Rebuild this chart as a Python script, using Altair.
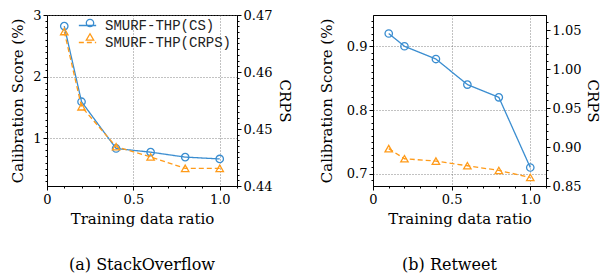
import altair as alt
import pandas as pd

# ---------------- data ----------------
ratios = [0.1, 0.2, 0.4, 0.6, 0.8, 1.0]
so_cs = [2.82, 1.59, 0.83, 0.77, 0.69, 0.66]
so_crps = [0.4671, 0.4539, 0.4469, 0.4451, 0.4431, 0.4431]
rt_cs = [0.92, 0.90, 0.88, 0.84, 0.82, 0.71]
rt_crps = [0.898, 0.885, 0.882, 0.876, 0.870, 0.861]

series_names = ["SMURF-THP(CS)", "SMURF-THP(CRPS)"]
marker_keys = ["o", "^"]
panel_captions = ["(a) StackOverflow", "(b) Retweet"]
x_title = "Training data ratio"
y_left_title = "Calibration Score (%)"
y_right_title = "CRPS"

# tick positions (major + minor)
x_ticks = [round(0.1 * i, 1) for i in range(12)]
so_left_ticks = [round(0.1 * i, 1) for i in range(3, 31)]
so_right_ticks = [round(0.44 + 0.001 * i, 3) for i in range(31)]
rt_left_ticks = [round(0.69 + 0.01 * i, 2) for i in range(26)]
rt_right_ticks = [round(0.85 + 0.01 * i, 2) for i in range(23)]

BLUE = "#3a8dd0"
ORANGE = "#ff9b1a"
SERIF = "DejaVu Serif"
MONO = "Liberation Mono"
LABEL_SIZE = 13
TITLE_SIZE = 15


def long_df(cs, crps):
    rows = []
    for r, a, b in zip(ratios, cs, crps):
        rows.append(dict(ratio=r, value=a, series=series_names[0], marker=marker_keys[0]))
        rows.append(dict(ratio=r, value=b, series=series_names[1], marker=marker_keys[1]))
    return pd.DataFrame(rows)


def major_test(mult):
    return f"abs(datum.value*{mult} - round(datum.value*{mult})) < 1e-6"


def make_axis(orient, values, mult, fmt, title, grid, tpad):
    t = major_test(mult)
    kw = dict(
        orient=orient,
        values=values,
        labelExpr=f"({t}) ? format(datum.value, '{fmt}') : ''",
        tickSize={"condition": {"test": t, "value": 4}, "value": 2},
        labelOverlap=False,
        labelFlush=False,
        title=title,
        titlePadding=tpad,
        grid=grid,
        labelFont=SERIF,
        titleFont=SERIF,
        labelFontSize=LABEL_SIZE,
        titleFontSize=TITLE_SIZE,
    )
    if grid:
        kw["gridOpacity"] = {"condition": {"test": t, "value": 1}, "value": 0}
    return alt.Axis(**kw)


def x_enc():
    ax = make_axis("bottom", x_ticks, 2, "", x_title, True, 5)
    ax.labelExpr = f"({major_test(2)}) ? (datum.value == 0 ? '0' : format(datum.value, '.1f')) : ''"
    ax.labelPadding = 3
    return alt.X("ratio:Q", scale=alt.Scale(domain=[0, 1.1], nice=False, zero=False), axis=ax)


def panel(df, left_ax, left_dom, right_ax, right_dom, caption, width, legend, dx):
    base = alt.Chart(df)
    layers = []
    for idx, (ax, dom) in enumerate([(left_ax, left_dom), (right_ax, right_dom)]):
        sub = base.transform_filter(alt.datum.series == series_names[idx])
        y = alt.Y("value:Q", scale=alt.Scale(domain=dom, nice=False, zero=False), axis=ax)
        if legend:
            leg_line = alt.Legend(orient="none", legendX=31, legendY=1, title=None,
                                  symbolType="stroke", symbolSize=300, symbolStrokeWidth=1.3,
                                  labelFont=MONO, labelFontSize=14, labelColor="#222",
                                  labelOffset=8, rowPadding=0, padding=0)
            leg_pt = alt.Legend(orient="none", legendX=36, legendY=1, title=None,
                                labelExpr="''", symbolSize=55, symbolStrokeWidth=1.3,
                                symbolFillColor="transparent", labelFontSize=14,
                                rowPadding=0, padding=0)
            line = sub.mark_line(strokeWidth=1.3).encode(
                x=x_enc(), y=y,
                color=alt.Color("series:N", scale=alt.Scale(domain=series_names, range=[BLUE, ORANGE]), legend=leg_line),
                strokeDash=alt.StrokeDash("series:N", scale=alt.Scale(domain=series_names, range=[[1, 0], [5, 3]]), legend=leg_line),
            )
            pts = sub.mark_point(filled=False, size=55, strokeWidth=1.3, opacity=1).encode(
                x=x_enc(), y=y,
                stroke=alt.Stroke("marker:N", scale=alt.Scale(domain=marker_keys, range=[BLUE, ORANGE]), legend=leg_pt),
                shape=alt.Shape("marker:N", scale=alt.Scale(domain=marker_keys, range=["circle", "triangle-up"]), legend=leg_pt),
            )
        else:
            col = [BLUE, ORANGE][idx]
            dash = [[1, 0], [5, 3]][idx]
            shp = ["circle", "triangle-up"][idx]
            line = sub.mark_line(strokeWidth=1.3, color=col, strokeDash=dash).encode(x=x_enc(), y=y)
            pts = sub.mark_point(filled=False, size=55, strokeWidth=1.3, color=col, shape=shp, opacity=1).encode(x=x_enc(), y=y)
        layers.append(alt.layer(line, pts))
    return alt.layer(*layers).resolve_scale(y="independent").properties(
        width=width, height=171,
        title=alt.TitleParams(caption, orient="bottom", font=SERIF, fontSize=16,
                              fontWeight="normal", color="black", offset=31, dx=dx),
    )


left = panel(
    long_df(so_cs, so_crps),
    make_axis("left", so_left_ticks, 1, "d", y_left_title, True, 7), [0.22, 3.0],
    make_axis("right", so_right_ticks, 100, ".2f", y_right_title, False, 5), [0.44, 0.47],
    panel_captions[0], 190, True, 0,
)
right = panel(
    long_df(rt_cs, rt_crps),
    make_axis("left", rt_left_ticks, 10, ".1f", y_left_title, True, 12), [0.681, 0.949],
    make_axis("right", rt_right_ticks, 20, ".2f", y_right_title, False, 4), [0.85, 1.0696],
    panel_captions[1], 173, False, -10,
)

chart = alt.hconcat(left, right, spacing=25).properties(
    padding={"left": 2, "top": 0, "right": 0, "bottom": 0}
).configure_axis(
    labelColor="black", titleFontWeight="normal", titleColor="black",
    domainColor="black", tickColor="black", domainWidth=1, tickWidth=1,
    gridColor="#666", gridDash=[1, 2], gridWidth=0.8, labelPadding=2,
).configure_view(stroke="black", strokeWidth=1)

chart.save("out.html", embed_options={"renderer": "svg", "actions": False})
